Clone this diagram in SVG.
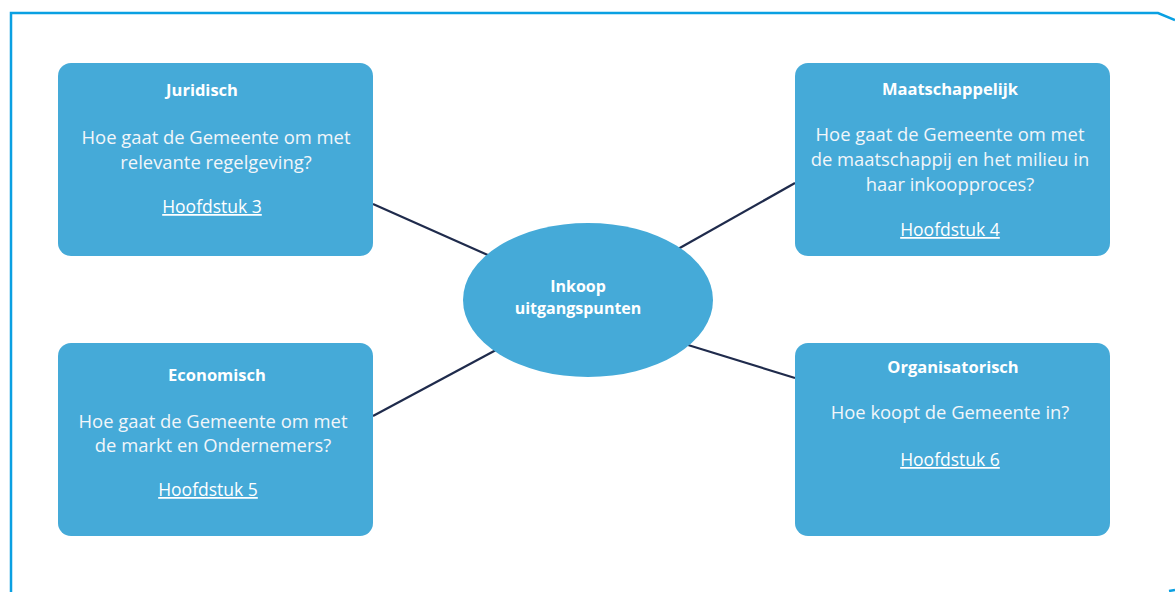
<svg xmlns="http://www.w3.org/2000/svg" width="1175" height="592" viewBox="0 0 1175 592">
<style>
.box{fill:#45AAD8;}
.title{font-family:"Open Sans","Liberation Sans",sans-serif;font-weight:bold;font-size:16.5px;fill:#FFFFFF;text-anchor:middle;}
.ctitle{font-family:"Open Sans","Liberation Sans",sans-serif;font-weight:bold;font-size:16px;fill:#FFFFFF;text-anchor:middle;}
.body{font-family:"Open Sans","Liberation Sans",sans-serif;font-size:18.4px;fill:#F2F6FA;text-anchor:middle;}
.link{font-family:"Open Sans","Liberation Sans",sans-serif;font-size:17.5px;fill:#FFFFFF;text-anchor:middle;text-decoration:underline;}
.conn{stroke:#1F2B4C;stroke-width:2.2;fill:none;}
.frame{stroke:#0AA0E2;stroke-width:2.5;fill:none;}
</style>
<rect width="1175" height="592" fill="#FFFFFF"/>
<path class="frame" d="M11,592 L11,13 L1158,13 L1175,20"/>
<path class="frame" d="M1169,591 L1175,590"/>
<g id="connectors">
<line class="conn" x1="373" y1="204" x2="490" y2="256"/>
<line class="conn" x1="795" y1="183" x2="678" y2="249"/>
<line class="conn" x1="373" y1="416" x2="496" y2="350"/>
<line class="conn" x1="795" y1="378" x2="688" y2="345"/>
</g>
<g id="juridisch">
<rect class="box" x="58" y="63" width="315" height="193" rx="13"/>
<text class="title" x="202" y="96">Juridisch</text>
<text class="body" x="216" y="144">Hoe gaat de Gemeente om met</text>
<text class="body" x="216" y="169">relevante regelgeving?</text>
<text class="link" x="212" y="213">Hoofdstuk 3</text>
</g>
<g id="maatschappelijk">
<rect class="box" x="795" y="63" width="315" height="193" rx="13"/>
<text class="title" x="950" y="95">Maatschappelijk</text>
<text class="body" x="950" y="141">Hoe gaat de Gemeente om met</text>
<text class="body" x="950" y="166">de maatschappij en het milieu in</text>
<text class="body" x="950" y="191">haar inkoopproces?</text>
<text class="link" x="950" y="236">Hoofdstuk 4</text>
</g>
<g id="economisch">
<rect class="box" x="58" y="343" width="315" height="193" rx="13"/>
<text class="title" x="217" y="381">Economisch</text>
<text class="body" x="213" y="428">Hoe gaat de Gemeente om met</text>
<text class="body" x="213" y="452">de markt en Ondernemers?</text>
<text class="link" x="208" y="496">Hoofdstuk 5</text>
</g>
<g id="organisatorisch">
<rect class="box" x="795" y="343" width="315" height="193" rx="13"/>
<text class="title" x="953" y="373">Organisatorisch</text>
<text class="body" x="950" y="419">Hoe koopt de Gemeente in?</text>
<text class="link" x="950" y="466">Hoofdstuk 6</text>
</g>
<g id="center">
<ellipse class="box" cx="588" cy="300" rx="125" ry="77"/>
<text class="ctitle" x="578" y="292">Inkoop</text>
<text class="ctitle" x="578" y="314">uitgangspunten</text>
</g>
</svg>
